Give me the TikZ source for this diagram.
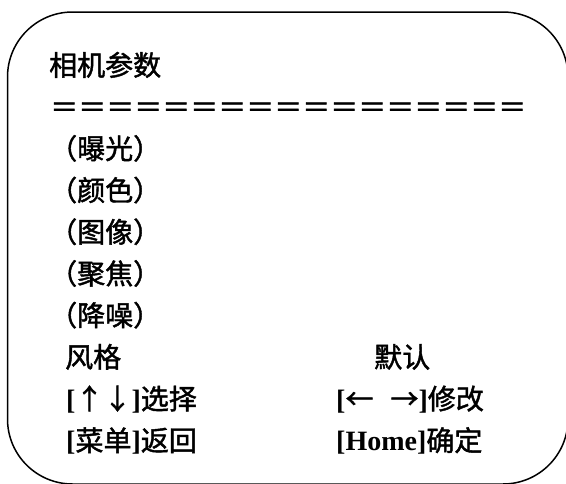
\documentclass[tikz,border=0pt]{standalone}
\usepackage{fontspec}
\setmainfont{Liberation Serif}
\newfontfamily\cjk{Noto Sans CJK SC}[RawFeature={embolden=1.5}]
\usetikzlibrary{positioning}

\newcommand{\zh}[1]{{\cjk\mdseries #1}}

\begin{document}
\begin{tikzpicture}
    [
    x=1pt, y=-1pt,
    panel/.style={draw, line width=1.5pt, rounded corners=65pt},
    row/.style={anchor=base west, inner sep=0pt, font=\fontsize{28}{28}\selectfont\bfseries},
    ]
    \useasboundingbox (0,0) rectangle (566,483);
    \draw [panel] (7.5,12) rectangle (568,484);

    \node (title) at (49,75.6) [row] {\zh{相机参数}};
    \node (sep) at (50,117.3) [row] {\zh{＝＝＝＝＝＝＝＝＝＝＝＝＝＝＝＝＝}};
    \node (exposure) at (49,159.0) [row] {\zh{（曝光）}};
    \node (colour) at (49,200.7) [row] {\zh{（颜色）}};
    \node (image) at (49,242.4) [row] {\zh{（图像）}};
    \node (focus) at (49,284.1) [row] {\zh{（聚焦）}};
    \node (noise) at (49,325.8) [row] {\zh{（降噪）}};
    \node (style) at (65,367.5) [row] {\zh{风格}};
    \node (default) at (374,367.5) [row] {\zh{默认}};
    \node (select) at (66,409.2) [row] {[\zh{↑↓}]\zh{选择}};
    \node (modify) at (336,409.2) [row] {[\zh{←\hspace{17pt}→}]\zh{修改}};
    \node (back) at (66,450.9) [row] {[\zh{菜单}]\zh{返回}};
    \node (confirm) at (336,450.9) [row] {[Home]\zh{确定}};
  \end{tikzpicture}
\end{document}
